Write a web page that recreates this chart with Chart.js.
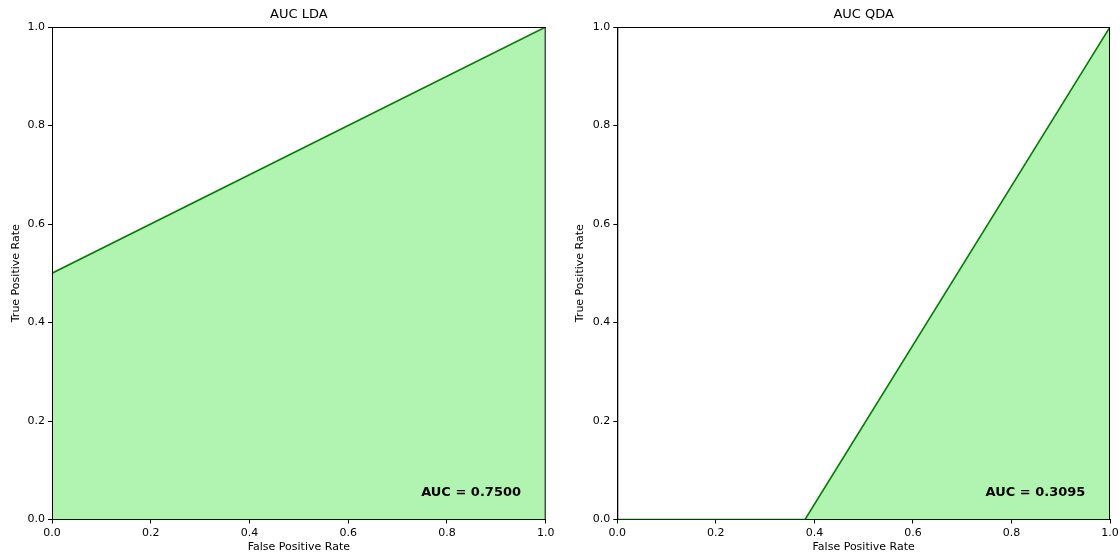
<!DOCTYPE html>
<html>
<head>
<meta charset="utf-8">
<script src="https://cdn.jsdelivr.net/npm/chart.js@4/dist/chart.umd.min.js"></script>
<style>
  html, body { margin: 0; padding: 0; background: #fff; }
  #wrap { position: relative; width: 1120px; height: 556px; }
  canvas { position: absolute; top: 0; }
</style>
</head>
<body>
<div id="wrap">
  <canvas id="ldaChart" width="560" height="556" style="left:0px"></canvas>
  <canvas id="qdaChart" width="560" height="556" style="left:560px"></canvas>
</div>
<script>
// ROC points
const ldaFpr = [0, 0, 1];
const ldaTpr = [0, 0.5, 1];
const qdaFpr = [0, 0.381, 1];
const qdaTpr = [0, 0, 1];

const ldaAuc = 0.75;
const qdaAuc = 0.3095;

const chartTitles = ["AUC LDA", "AUC QDA"];
const xLabel = "False Positive Rate";
const yLabel = "True Positive Rate";

const FONT = "'DejaVu Sans', sans-serif";

// spines on top of the curve + the AUC note
const framePlugin = {
    id: "frame",
    afterDraw(chart, args, opts) {
        const ctx = chart.ctx;
        const a = chart.chartArea;
        ctx.save();
        ctx.strokeStyle = "#000";
        ctx.lineWidth = 1;
        ctx.beginPath();
        ctx.moveTo(a.left, a.top + 0.5);
        ctx.lineTo(a.right, a.top + 0.5);
        ctx.moveTo(a.right - 0.5, a.top);
        ctx.lineTo(a.right - 0.5, a.bottom);
        ctx.moveTo(a.left + 0.5, a.top);
        ctx.lineTo(a.left + 0.5, a.bottom);
        ctx.stroke();

        ctx.font = "bold 13px " + FONT;
        ctx.fillStyle = "#000";
        ctx.textAlign = "right";
        ctx.textBaseline = "alphabetic";
        const x = chart.scales.x.getPixelForValue(0.95);
        const y = chart.scales.y.getPixelForValue(0.05);
        ctx.fillText("AUC = " + opts.auc.toFixed(4), x, y + 1);
        ctx.restore();
    }
};

function makeChart(id, fpr, tpr, auc, title, yAxisWidth, rightPad, yTitlePad) {
    const points = fpr.map((v, i) => ({ x: v, y: tpr[i] }));
    return new Chart(document.getElementById(id), {
        type: "scatter",
        data: {
            datasets: [{
                data: points,
                showLine: true,
                borderColor: "green",
                borderWidth: 1.6,
                backgroundColor: "rgba(144, 238, 144, 0.7)",
                fill: "origin",
                pointRadius: 0,
                tension: 0
            }]
        },
        options: {
            responsive: false,
            animation: false,
            devicePixelRatio: 1,
            layout: { padding: { left: 0, right: rightPad, top: 0, bottom: 0 } },
            plugins: {
                legend: { display: false },
                tooltip: { enabled: false },
                title: {
                    display: true,
                    text: title,
                    fullSize: false,
                    color: "#000",
                    font: { family: FONT, size: 13, weight: "normal", lineHeight: 1.2 },
                    padding: { top: 7, bottom: 4.4 }
                },
                frame: { auc: auc }
            },
            scales: {
                x: {
                    type: "linear",
                    min: 0,
                    max: 1,
                    afterFit(scale) {
                        scale.height = 36.5;
                        scale.paddingLeft = 0;
                        scale.paddingRight = 0;
                    },
                    ticks: {
                        stepSize: 0.2,
                        color: "#000",
                        padding: 3,
                        maxRotation: 0,
                        font: { family: FONT, size: 11 },
                        callback: v => v.toFixed(1)
                    },
                    grid: { drawOnChartArea: false, drawTicks: true, tickLength: 4, color: "#000" },
                    border: { display: true, color: "#000", width: 1 },
                    title: {
                        display: true,
                        text: xLabel,
                        color: "#000",
                        font: { family: FONT, size: 11, lineHeight: 1.2 },
                        padding: { top: 0, bottom: 2.4 }
                    }
                },
                y: {
                    type: "linear",
                    min: 0,
                    max: 1,
                    afterFit(scale) {
                        scale.width = yAxisWidth;
                        scale.paddingTop = 0;
                        scale.paddingBottom = 0;
                    },
                    ticks: {
                        stepSize: 0.2,
                        color: "#000",
                        padding: 3,
                        font: { family: FONT, size: 11 },
                        callback: v => v.toFixed(1)
                    },
                    grid: { drawOnChartArea: false, drawTicks: true, tickLength: 4, color: "#000" },
                    border: { display: true, color: "#000", width: 1 },
                    title: {
                        display: true,
                        text: yLabel,
                        color: "#000",
                        font: { family: FONT, size: 11, lineHeight: 1.2 },
                        padding: { top: yTitlePad, bottom: 0 }
                    }
                }
            }
        },
        plugins: [framePlugin]
    });
}

makeChart("ldaChart", ldaFpr, ldaTpr, ldaAuc, chartTitles[0], 52, 14.3, 9.4);
makeChart("qdaChart", qdaFpr, qdaTpr, qdaAuc, chartTitles[1], 57.3, 10, 13.4);
</script>
</body>
</html>
